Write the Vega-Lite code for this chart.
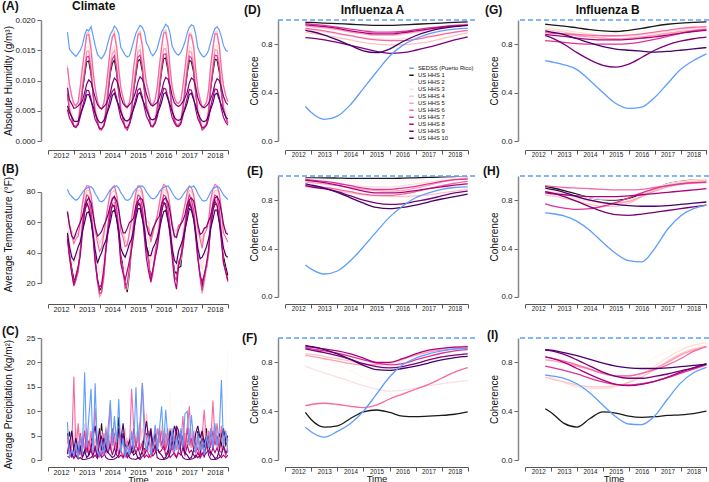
{
"$schema":"https://vega.github.io/schema/vega-lite/v6.json",
"padding":{"left":2,"top":0,"right":0,"bottom":0},
"config":{
 "font":"Liberation Sans",
 "view":{"stroke":null},
 "axis":{"grid":false,"labelColor":"#222","titleColor":"#111","titleFontWeight":"normal","labelFont":"Liberation Sans","titleFont":"Liberation Sans"},
 "axisX":{"tickSize":4,"labelPadding":-3,"domainColor":"#555","tickColor":"#555","titleFontSize":9.5,"titlePadding":-1},
 "axisY":{"tickSize":4,"labelPadding":2,"domainColor":"#888","domainWidth":1.5,"tickColor":"#666","labelFontSize":8,"titleFontSize":10,"titleBaseline":"middle"},
 "title":{"font":"Liberation Sans","fontSize":12,"fontWeight":"bold","color":"#111","anchor":"start","frame":"group","offset":0,"baseline":"bottom"}
},
"datasets":{
"A":[
{"t":2012.75,"PR":0.018,"H1":0.0082,"H2":0.009,"H3":0.0097,"H4":0.0125,"H5":0.0085,"H6":0.0121,"H7":0.0078,"H8":0.0052,"H9":0.0088,"H10":0.0058},
{"t":2012.83,"PR":0.0152,"H1":0.005,"H2":0.0058,"H3":0.0066,"H4":0.0094,"H5":0.0055,"H6":0.0093,"H7":0.005,"H8":0.0038,"H9":0.0068,"H10":0.0047},
{"t":2012.92,"PR":0.0147,"H1":0.004,"H2":0.0045,"H3":0.0049,"H4":0.0075,"H5":0.004,"H6":0.0074,"H7":0.0038,"H8":0.0031,"H9":0.0061,"H10":0.004},
{"t":2013.0,"PR":0.0143,"H1":0.0026,"H2":0.0029,"H3":0.0034,"H4":0.0058,"H5":0.0025,"H6":0.0062,"H7":0.0024,"H8":0.0024,"H9":0.0054,"H10":0.0033},
{"t":2013.08,"PR":0.014,"H1":0.0024,"H2":0.0027,"H3":0.0033,"H4":0.006,"H5":0.0024,"H6":0.0058,"H7":0.0022,"H8":0.0023,"H9":0.0055,"H10":0.0032},
{"t":2013.17,"PR":0.0145,"H1":0.003,"H2":0.0035,"H3":0.0041,"H4":0.0065,"H5":0.0032,"H6":0.0064,"H7":0.0029,"H8":0.0027,"H9":0.0058,"H10":0.0033},
{"t":2013.25,"PR":0.015,"H1":0.0052,"H2":0.0058,"H3":0.0066,"H4":0.009,"H5":0.0058,"H6":0.009,"H7":0.0054,"H8":0.004,"H9":0.0062,"H10":0.0043},
{"t":2013.33,"PR":0.0158,"H1":0.0082,"H2":0.009,"H3":0.0098,"H4":0.0122,"H5":0.0092,"H6":0.012,"H7":0.0085,"H8":0.0056,"H9":0.0066,"H10":0.0052},
{"t":2013.42,"PR":0.0175,"H1":0.0108,"H2":0.0118,"H3":0.0126,"H4":0.015,"H5":0.012,"H6":0.0148,"H7":0.0112,"H8":0.007,"H9":0.008,"H10":0.0063},
{"t":2013.5,"PR":0.0184,"H1":0.0131,"H2":0.0144,"H3":0.0155,"H4":0.0178,"H5":0.0148,"H6":0.0175,"H7":0.0139,"H8":0.0084,"H9":0.0094,"H10":0.0076},
{"t":2013.58,"PR":0.0182,"H1":0.0132,"H2":0.0145,"H3":0.0156,"H4":0.018,"H5":0.0149,"H6":0.0176,"H7":0.014,"H8":0.0083,"H9":0.0101,"H10":0.0077},
{"t":2013.67,"PR":0.0189,"H1":0.011,"H2":0.012,"H3":0.013,"H4":0.016,"H5":0.0124,"H6":0.015,"H7":0.0115,"H8":0.007,"H9":0.0097,"H10":0.0066},
{"t":2013.75,"PR":0.0174,"H1":0.0077,"H2":0.0084,"H3":0.0092,"H4":0.0117,"H5":0.0083,"H6":0.0114,"H7":0.0078,"H8":0.005,"H9":0.0084,"H10":0.0057},
{"t":2013.83,"PR":0.0158,"H1":0.0048,"H2":0.0055,"H3":0.0062,"H4":0.0088,"H5":0.0052,"H6":0.0087,"H7":0.0048,"H8":0.0036,"H9":0.0072,"H10":0.0046},
{"t":2013.92,"PR":0.0143,"H1":0.0033,"H2":0.0038,"H3":0.0043,"H4":0.0068,"H5":0.0034,"H6":0.0066,"H7":0.0032,"H8":0.0028,"H9":0.006,"H10":0.0036},
{"t":2014.0,"PR":0.0139,"H1":0.0022,"H2":0.0025,"H3":0.003,"H4":0.0054,"H5":0.0021,"H6":0.0055,"H7":0.0019,"H8":0.0021,"H9":0.0056,"H10":0.0031},
{"t":2014.08,"PR":0.0136,"H1":0.002,"H2":0.0023,"H3":0.0028,"H4":0.0052,"H5":0.0019,"H6":0.0053,"H7":0.0018,"H8":0.002,"H9":0.0053,"H10":0.003},
{"t":2014.17,"PR":0.0142,"H1":0.0027,"H2":0.0031,"H3":0.0038,"H4":0.0062,"H5":0.0028,"H6":0.0063,"H7":0.0026,"H8":0.0025,"H9":0.0057,"H10":0.0034},
{"t":2014.25,"PR":0.0149,"H1":0.0047,"H2":0.0053,"H3":0.006,"H4":0.0085,"H5":0.0052,"H6":0.0085,"H7":0.0049,"H8":0.0037,"H9":0.0061,"H10":0.0042},
{"t":2014.33,"PR":0.0163,"H1":0.0078,"H2":0.0086,"H3":0.0094,"H4":0.0118,"H5":0.0088,"H6":0.0116,"H7":0.008,"H8":0.0054,"H9":0.0069,"H10":0.005},
{"t":2014.42,"PR":0.0176,"H1":0.0112,"H2":0.0123,"H3":0.0132,"H4":0.0155,"H5":0.0125,"H6":0.0152,"H7":0.0117,"H8":0.0072,"H9":0.0079,"H10":0.0061},
{"t":2014.5,"PR":0.0182,"H1":0.0128,"H2":0.0141,"H3":0.0151,"H4":0.0174,"H5":0.0144,"H6":0.0171,"H7":0.0135,"H8":0.0082,"H9":0.0095,"H10":0.0075},
{"t":2014.58,"PR":0.019,"H1":0.0134,"H2":0.0147,"H3":0.0157,"H4":0.0181,"H5":0.015,"H6":0.0177,"H7":0.0141,"H8":0.0086,"H9":0.0104,"H10":0.0079},
{"t":2014.67,"PR":0.0186,"H1":0.0111,"H2":0.0122,"H3":0.0131,"H4":0.0158,"H5":0.0125,"H6":0.0154,"H7":0.0117,"H8":0.0071,"H9":0.01,"H10":0.0067},
{"t":2014.75,"PR":0.0177,"H1":0.008,"H2":0.0088,"H3":0.0095,"H4":0.012,"H5":0.0088,"H6":0.0118,"H7":0.0082,"H8":0.0053,"H9":0.009,"H10":0.0059},
{"t":2014.83,"PR":0.0155,"H1":0.0052,"H2":0.0058,"H3":0.0064,"H4":0.0089,"H5":0.0054,"H6":0.0088,"H7":0.005,"H8":0.0038,"H9":0.0073,"H10":0.0048},
{"t":2014.92,"PR":0.0148,"H1":0.0037,"H2":0.0042,"H3":0.0047,"H4":0.0072,"H5":0.0039,"H6":0.0071,"H7":0.0036,"H8":0.003,"H9":0.0062,"H10":0.0039},
{"t":2015.0,"PR":0.0142,"H1":0.0025,"H2":0.0028,"H3":0.0033,"H4":0.0057,"H5":0.0024,"H6":0.006,"H7":0.0022,"H8":0.0023,"H9":0.0058,"H10":0.0034},
{"t":2015.08,"PR":0.0139,"H1":0.0019,"H2":0.0022,"H3":0.0027,"H4":0.0053,"H5":0.0019,"H6":0.0056,"H7":0.0018,"H8":0.0022,"H9":0.0056,"H10":0.0033},
{"t":2015.17,"PR":0.0141,"H1":0.0029,"H2":0.0034,"H3":0.004,"H4":0.0064,"H5":0.0031,"H6":0.0065,"H7":0.0028,"H8":0.0028,"H9":0.006,"H10":0.0036},
{"t":2015.25,"PR":0.0152,"H1":0.005,"H2":0.0056,"H3":0.0063,"H4":0.0088,"H5":0.0056,"H6":0.0088,"H7":0.0052,"H8":0.0039,"H9":0.0064,"H10":0.0044},
{"t":2015.33,"PR":0.0165,"H1":0.0083,"H2":0.0091,"H3":0.0099,"H4":0.0123,"H5":0.0093,"H6":0.0121,"H7":0.0086,"H8":0.0057,"H9":0.0072,"H10":0.0053},
{"t":2015.42,"PR":0.0178,"H1":0.011,"H2":0.012,"H3":0.0129,"H4":0.0153,"H5":0.0122,"H6":0.015,"H7":0.0114,"H8":0.0071,"H9":0.0083,"H10":0.0064},
{"t":2015.5,"PR":0.0185,"H1":0.0132,"H2":0.0145,"H3":0.0155,"H4":0.0178,"H5":0.0148,"H6":0.0175,"H7":0.0139,"H8":0.0085,"H9":0.0098,"H10":0.0077},
{"t":2015.58,"PR":0.0191,"H1":0.0135,"H2":0.0148,"H3":0.0158,"H4":0.0182,"H5":0.0151,"H6":0.0178,"H7":0.0142,"H8":0.0087,"H9":0.0106,"H10":0.008},
{"t":2015.67,"PR":0.0188,"H1":0.0115,"H2":0.0126,"H3":0.0135,"H4":0.0162,"H5":0.0129,"H6":0.0157,"H7":0.012,"H8":0.0073,"H9":0.0102,"H10":0.0069},
{"t":2015.75,"PR":0.018,"H1":0.0083,"H2":0.0091,"H3":0.0099,"H4":0.0125,"H5":0.0091,"H6":0.0122,"H7":0.0085,"H8":0.0055,"H9":0.0092,"H10":0.0061},
{"t":2015.83,"PR":0.0162,"H1":0.0058,"H2":0.0064,"H3":0.007,"H4":0.0096,"H5":0.006,"H6":0.0095,"H7":0.0056,"H8":0.0041,"H9":0.0078,"H10":0.0051},
{"t":2015.92,"PR":0.0155,"H1":0.0046,"H2":0.0051,"H3":0.0056,"H4":0.0082,"H5":0.0047,"H6":0.008,"H7":0.0044,"H8":0.0033,"H9":0.0066,"H10":0.0042},
{"t":2016.0,"PR":0.0145,"H1":0.0026,"H2":0.003,"H3":0.0035,"H4":0.006,"H5":0.0026,"H6":0.0062,"H7":0.0024,"H8":0.0025,"H9":0.006,"H10":0.0036},
{"t":2016.08,"PR":0.0141,"H1":0.0025,"H2":0.0028,"H3":0.0034,"H4":0.0061,"H5":0.0025,"H6":0.006,"H7":0.0023,"H8":0.0024,"H9":0.0058,"H10":0.0035},
{"t":2016.17,"PR":0.0146,"H1":0.0032,"H2":0.0037,"H3":0.0044,"H4":0.0069,"H5":0.0035,"H6":0.0068,"H7":0.0031,"H8":0.0029,"H9":0.0061,"H10":0.0037},
{"t":2016.25,"PR":0.0153,"H1":0.0051,"H2":0.0057,"H3":0.0064,"H4":0.0089,"H5":0.0057,"H6":0.0089,"H7":0.0053,"H8":0.004,"H9":0.0064,"H10":0.0045},
{"t":2016.33,"PR":0.0166,"H1":0.0084,"H2":0.0092,"H3":0.01,"H4":0.0124,"H5":0.0094,"H6":0.0122,"H7":0.0087,"H8":0.0058,"H9":0.0072,"H10":0.0053},
{"t":2016.42,"PR":0.018,"H1":0.0115,"H2":0.0126,"H3":0.0135,"H4":0.0158,"H5":0.0128,"H6":0.0155,"H7":0.012,"H8":0.0074,"H9":0.0082,"H10":0.0064},
{"t":2016.5,"PR":0.0186,"H1":0.0136,"H2":0.0149,"H3":0.0159,"H4":0.0181,"H5":0.0152,"H6":0.0178,"H7":0.0143,"H8":0.0087,"H9":0.0097,"H10":0.0078},
{"t":2016.58,"PR":0.0193,"H1":0.0137,"H2":0.015,"H3":0.016,"H4":0.0184,"H5":0.0153,"H6":0.018,"H7":0.0144,"H8":0.0086,"H9":0.0105,"H10":0.008},
{"t":2016.67,"PR":0.0189,"H1":0.0116,"H2":0.0127,"H3":0.0136,"H4":0.0163,"H5":0.013,"H6":0.0158,"H7":0.0121,"H8":0.0072,"H9":0.0102,"H10":0.0069},
{"t":2016.75,"PR":0.0178,"H1":0.0082,"H2":0.009,"H3":0.0097,"H4":0.0123,"H5":0.0089,"H6":0.012,"H7":0.0084,"H8":0.0054,"H9":0.0091,"H10":0.006},
{"t":2016.83,"PR":0.0157,"H1":0.0053,"H2":0.0059,"H3":0.0065,"H4":0.0091,"H5":0.0055,"H6":0.0089,"H7":0.0051,"H8":0.0039,"H9":0.0075,"H10":0.0049},
{"t":2016.92,"PR":0.0149,"H1":0.0036,"H2":0.0041,"H3":0.0046,"H4":0.0072,"H5":0.0037,"H6":0.0072,"H7":0.0035,"H8":0.003,"H9":0.0063,"H10":0.0039},
{"t":2017.0,"PR":0.0144,"H1":0.0027,"H2":0.0031,"H3":0.0037,"H4":0.0062,"H5":0.0027,"H6":0.0064,"H7":0.0025,"H8":0.0025,"H9":0.0059,"H10":0.0035},
{"t":2017.08,"PR":0.0142,"H1":0.0026,"H2":0.003,"H3":0.0036,"H4":0.0063,"H5":0.0028,"H6":0.0062,"H7":0.0025,"H8":0.0024,"H9":0.0057,"H10":0.0034},
{"t":2017.17,"PR":0.0147,"H1":0.0031,"H2":0.0036,"H3":0.0043,"H4":0.0068,"H5":0.0034,"H6":0.0067,"H7":0.003,"H8":0.0028,"H9":0.006,"H10":0.0036},
{"t":2017.25,"PR":0.0154,"H1":0.0053,"H2":0.0059,"H3":0.0066,"H4":0.0091,"H5":0.0059,"H6":0.0091,"H7":0.0055,"H8":0.0041,"H9":0.0065,"H10":0.0045},
{"t":2017.33,"PR":0.0164,"H1":0.0081,"H2":0.0089,"H3":0.0097,"H4":0.0121,"H5":0.0091,"H6":0.0119,"H7":0.0084,"H8":0.0056,"H9":0.0071,"H10":0.0052},
{"t":2017.42,"PR":0.0179,"H1":0.0112,"H2":0.0122,"H3":0.0131,"H4":0.0155,"H5":0.0124,"H6":0.0152,"H7":0.0116,"H8":0.0072,"H9":0.0081,"H10":0.0063},
{"t":2017.5,"PR":0.0188,"H1":0.0133,"H2":0.0146,"H3":0.0156,"H4":0.0179,"H5":0.0149,"H6":0.0176,"H7":0.014,"H8":0.0085,"H9":0.0096,"H10":0.0077},
{"t":2017.58,"PR":0.0192,"H1":0.0131,"H2":0.0144,"H3":0.0154,"H4":0.0178,"H5":0.0147,"H6":0.0174,"H7":0.0138,"H8":0.0084,"H9":0.0104,"H10":0.0079},
{"t":2017.67,"PR":0.019,"H1":0.0113,"H2":0.0124,"H3":0.0133,"H4":0.016,"H5":0.0127,"H6":0.0155,"H7":0.0118,"H8":0.0071,"H9":0.0101,"H10":0.0068},
{"t":2017.75,"PR":0.0176,"H1":0.0079,"H2":0.0087,"H3":0.0094,"H4":0.012,"H5":0.0086,"H6":0.0117,"H7":0.0081,"H8":0.0052,"H9":0.0089,"H10":0.0058},
{"t":2017.83,"PR":0.0154,"H1":0.005,"H2":0.0056,"H3":0.0062,"H4":0.0088,"H5":0.0052,"H6":0.0086,"H7":0.0048,"H8":0.0037,"H9":0.0072,"H10":0.0047},
{"t":2017.92,"PR":0.0146,"H1":0.0034,"H2":0.0039,"H3":0.0044,"H4":0.0069,"H5":0.0035,"H6":0.0069,"H7":0.0033,"H8":0.0029,"H9":0.0061,"H10":0.0038},
{"t":2018.0,"PR":0.0141,"H1":0.0021,"H2":0.0024,"H3":0.0029,"H4":0.0053,"H5":0.002,"H6":0.0056,"H7":0.0018,"H8":0.0022,"H9":0.0057,"H10":0.0033},
{"t":2018.08,"PR":0.0139,"H1":0.0023,"H2":0.0026,"H3":0.0032,"H4":0.0058,"H5":0.0023,"H6":0.0058,"H7":0.0021,"H8":0.0023,"H9":0.0055,"H10":0.0032},
{"t":2018.17,"PR":0.0143,"H1":0.0028,"H2":0.0033,"H3":0.004,"H4":0.0064,"H5":0.003,"H6":0.0064,"H7":0.0027,"H8":0.0026,"H9":0.0058,"H10":0.0034},
{"t":2018.25,"PR":0.015,"H1":0.0046,"H2":0.0052,"H3":0.0059,"H4":0.0084,"H5":0.0051,"H6":0.0084,"H7":0.0048,"H8":0.0036,"H9":0.0062,"H10":0.0042},
{"t":2018.33,"PR":0.0163,"H1":0.0085,"H2":0.0093,"H3":0.0101,"H4":0.0125,"H5":0.0095,"H6":0.0123,"H7":0.0088,"H8":0.0057,"H9":0.007,"H10":0.0052},
{"t":2018.42,"PR":0.0177,"H1":0.0114,"H2":0.0124,"H3":0.0133,"H4":0.0156,"H5":0.0126,"H6":0.0153,"H7":0.0118,"H8":0.0073,"H9":0.008,"H10":0.0063},
{"t":2018.5,"PR":0.0186,"H1":0.0135,"H2":0.0148,"H3":0.0158,"H4":0.018,"H5":0.0151,"H6":0.0177,"H7":0.0142,"H8":0.0086,"H9":0.0095,"H10":0.0077},
{"t":2018.58,"PR":0.0189,"H1":0.0134,"H2":0.0147,"H3":0.0157,"H4":0.0181,"H5":0.015,"H6":0.0177,"H7":0.0141,"H8":0.0085,"H9":0.0103,"H10":0.0079},
{"t":2018.67,"PR":0.0183,"H1":0.0114,"H2":0.0125,"H3":0.0134,"H4":0.0161,"H5":0.0128,"H6":0.0156,"H7":0.0119,"H8":0.0072,"H9":0.01,"H10":0.0068},
{"t":2018.75,"PR":0.0172,"H1":0.008,"H2":0.0088,"H3":0.0096,"H4":0.0121,"H5":0.0088,"H6":0.0119,"H7":0.0082,"H8":0.0053,"H9":0.0088,"H10":0.0059},
{"t":2018.83,"PR":0.0158,"H1":0.0055,"H2":0.0061,"H3":0.0067,"H4":0.0093,"H5":0.0057,"H6":0.0091,"H7":0.0053,"H8":0.0039,"H9":0.0074,"H10":0.0049},
{"t":2018.92,"PR":0.015,"H1":0.004,"H2":0.0045,"H3":0.005,"H4":0.0076,"H5":0.0042,"H6":0.0075,"H7":0.0039,"H8":0.0031,"H9":0.0064,"H10":0.004},
{"t":2019.0,"PR":0.0148,"H1":0.003,"H2":0.0034,"H3":0.004,"H4":0.0065,"H5":0.0031,"H6":0.0065,"H7":0.0029,"H8":0.0026,"H9":0.006,"H10":0.0036}
],
"B":[
{"t":2012.75,"PR":81.8,"H1":51,"H2":55,"H3":59,"H4":67,"H5":50,"H6":67,"H7":52,"H8":49,"H9":67,"H10":53},
{"t":2012.83,"PR":78.5,"H1":39,"H2":44,"H3":48,"H4":59,"H5":37,"H6":58,"H7":39,"H8":37,"H9":58,"H10":44},
{"t":2012.92,"PR":77,"H1":31,"H2":35,"H3":40,"H4":55,"H5":27,"H6":51,"H7":28,"H8":26,"H9":51,"H10":37},
{"t":2013.0,"PR":75.5,"H1":22,"H2":27,"H3":33,"H4":50,"H5":18,"H6":46,"H7":18,"H8":19,"H9":49,"H10":35},
{"t":2013.08,"PR":74.5,"H1":23,"H2":28,"H3":35,"H4":51,"H5":22,"H6":49,"H7":22,"H8":25,"H9":53,"H10":39},
{"t":2013.17,"PR":75.5,"H1":31,"H2":36,"H3":41,"H4":53,"H5":27,"H6":51,"H7":28,"H8":31,"H9":57,"H10":44},
{"t":2013.25,"PR":77.5,"H1":45,"H2":49,"H3":52,"H4":62,"H5":41,"H6":60,"H7":40,"H8":38,"H9":60,"H10":47},
{"t":2013.33,"PR":79.5,"H1":57,"H2":61,"H3":64,"H4":71,"H5":58,"H6":72,"H7":58,"H8":52,"H9":64,"H10":54},
{"t":2013.42,"PR":81.5,"H1":67,"H2":71,"H3":74,"H4":78,"H5":70,"H6":81,"H7":72,"H8":67,"H9":70,"H10":60},
{"t":2013.5,"PR":82.5,"H1":73,"H2":78,"H3":80,"H4":81,"H5":75,"H6":84,"H7":78,"H8":72,"H9":74,"H10":66},
{"t":2013.58,"PR":83,"H1":70,"H2":75,"H3":77,"H4":81,"H5":73,"H6":84,"H7":77,"H8":70,"H9":76,"H10":67},
{"t":2013.67,"PR":83.5,"H1":63,"H2":67,"H3":70,"H4":76,"H5":65,"H6":78,"H7":68,"H8":62,"H9":73,"H10":61},
{"t":2013.75,"PR":82,"H1":53,"H2":57,"H3":61,"H4":68,"H5":52,"H6":68,"H7":54,"H8":50,"H9":65,"H10":52},
{"t":2013.83,"PR":79,"H1":37,"H2":42,"H3":47,"H4":57,"H5":34,"H6":55,"H7":35,"H8":34,"H9":57,"H10":42},
{"t":2013.92,"PR":76.5,"H1":25,"H2":30,"H3":35,"H4":52,"H5":21,"H6":47,"H7":21,"H8":22,"H9":51,"H10":33},
{"t":2014.0,"PR":74,"H1":15,"H2":19,"H3":26,"H4":46,"H5":11,"H6":41,"H7":13,"H8":17,"H9":52,"H10":37},
{"t":2014.08,"PR":73.5,"H1":17,"H2":22,"H3":28,"H4":49,"H5":13,"H6":43,"H7":14,"H8":19,"H9":54,"H10":40},
{"t":2014.17,"PR":74.5,"H1":26,"H2":31,"H3":37,"H4":54,"H5":23,"H6":52,"H7":26,"H8":30,"H9":58,"H10":45},
{"t":2014.25,"PR":76.5,"H1":43,"H2":47,"H3":51,"H4":62,"H5":41,"H6":62,"H7":44,"H8":42,"H9":61,"H10":48},
{"t":2014.33,"PR":79,"H1":56,"H2":60,"H3":63,"H4":71,"H5":57,"H6":71,"H7":58,"H8":53,"H9":65,"H10":54},
{"t":2014.42,"PR":81.5,"H1":66,"H2":70,"H3":73,"H4":78,"H5":69,"H6":80,"H7":71,"H8":65,"H9":71,"H10":60},
{"t":2014.5,"PR":82.5,"H1":72,"H2":76,"H3":78,"H4":80,"H5":73,"H6":83,"H7":76,"H8":71,"H9":75,"H10":67},
{"t":2014.58,"PR":83.5,"H1":70,"H2":75,"H3":77,"H4":81,"H5":73,"H6":84,"H7":77,"H8":71,"H9":77,"H10":68},
{"t":2014.67,"PR":84,"H1":63,"H2":68,"H3":71,"H4":77,"H5":66,"H6":78,"H7":69,"H8":62,"H9":74,"H10":62},
{"t":2014.75,"PR":82.5,"H1":54,"H2":58,"H3":62,"H4":69,"H5":54,"H6":69,"H7":56,"H8":51,"H9":68,"H10":55},
{"t":2014.83,"PR":79.5,"H1":38,"H2":43,"H3":48,"H4":58,"H5":35,"H6":54,"H7":36,"H8":33,"H9":59,"H10":43},
{"t":2014.92,"PR":77.5,"H1":32,"H2":36,"H3":41,"H4":55,"H5":28,"H6":50,"H7":29,"H8":26,"H9":53,"H10":39},
{"t":2015.0,"PR":75,"H1":20,"H2":24,"H3":31,"H4":48,"H5":16,"H6":44,"H7":17,"H8":22,"H9":53,"H10":37},
{"t":2015.08,"PR":74.5,"H1":14,"H2":18,"H3":25,"H4":45,"H5":16,"H6":45,"H7":20,"H8":28,"H9":56,"H10":41},
{"t":2015.17,"PR":75,"H1":27,"H2":33,"H3":39,"H4":55,"H5":29,"H6":53,"H7":31,"H8":35,"H9":60,"H10":46},
{"t":2015.25,"PR":77,"H1":44,"H2":48,"H3":52,"H4":63,"H5":45,"H6":62,"H7":46,"H8":42,"H9":61,"H10":49},
{"t":2015.33,"PR":80,"H1":59,"H2":63,"H3":66,"H4":72,"H5":59,"H6":71,"H7":59,"H8":51,"H9":63,"H10":55},
{"t":2015.42,"PR":82,"H1":67,"H2":72,"H3":75,"H4":79,"H5":70,"H6":80,"H7":71,"H8":67,"H9":71,"H10":63},
{"t":2015.5,"PR":83,"H1":72,"H2":77,"H3":79,"H4":81,"H5":74,"H6":84,"H7":78,"H8":73,"H9":74,"H10":69},
{"t":2015.58,"PR":83.5,"H1":71,"H2":76,"H3":78,"H4":81,"H5":73,"H6":84,"H7":77,"H8":72,"H9":76,"H10":69},
{"t":2015.67,"PR":84,"H1":66,"H2":70,"H3":73,"H4":78,"H5":68,"H6":80,"H7":70,"H8":65,"H9":75,"H10":62},
{"t":2015.75,"PR":82.5,"H1":54,"H2":58,"H3":62,"H4":69,"H5":56,"H6":70,"H7":57,"H8":50,"H9":69,"H10":56},
{"t":2015.83,"PR":80,"H1":44,"H2":48,"H3":52,"H4":61,"H5":43,"H6":58,"H7":42,"H8":36,"H9":58,"H10":44},
{"t":2015.92,"PR":78,"H1":40,"H2":44,"H3":47,"H4":60,"H5":34,"H6":56,"H7":33,"H8":27,"H9":52,"H10":38},
{"t":2016.0,"PR":76,"H1":24,"H2":28,"H3":34,"H4":49,"H5":20,"H6":47,"H7":21,"H8":21,"H9":51,"H10":38},
{"t":2016.08,"PR":75.5,"H1":28,"H2":32,"H3":38,"H4":52,"H5":25,"H6":53,"H7":28,"H8":29,"H9":56,"H10":43},
{"t":2016.17,"PR":76,"H1":37,"H2":42,"H3":47,"H4":60,"H5":38,"H6":60,"H7":40,"H8":37,"H9":59,"H10":46},
{"t":2016.25,"PR":77.5,"H1":46,"H2":50,"H3":54,"H4":64,"H5":47,"H6":64,"H7":48,"H8":43,"H9":62,"H10":50},
{"t":2016.33,"PR":80,"H1":57,"H2":61,"H3":65,"H4":72,"H5":58,"H6":72,"H7":58,"H8":53,"H9":64,"H10":55},
{"t":2016.42,"PR":82,"H1":67,"H2":72,"H3":75,"H4":79,"H5":70,"H6":81,"H7":72,"H8":68,"H9":72,"H10":62},
{"t":2016.5,"PR":83,"H1":73,"H2":78,"H3":80,"H4":82,"H5":76,"H6":85,"H7":78,"H8":73,"H9":75,"H10":67},
{"t":2016.58,"PR":83.5,"H1":72,"H2":77,"H3":79,"H4":81,"H5":75,"H6":84,"H7":77,"H8":71,"H9":76,"H10":68},
{"t":2016.67,"PR":84,"H1":65,"H2":69,"H3":72,"H4":78,"H5":68,"H6":79,"H7":69,"H8":62,"H9":73,"H10":61},
{"t":2016.75,"PR":82,"H1":54,"H2":58,"H3":62,"H4":70,"H5":56,"H6":70,"H7":57,"H8":51,"H9":67,"H10":54},
{"t":2016.83,"PR":79.5,"H1":43,"H2":47,"H3":51,"H4":60,"H5":43,"H6":58,"H7":42,"H8":37,"H9":58,"H10":43},
{"t":2016.92,"PR":77,"H1":28,"H2":33,"H3":38,"H4":54,"H5":25,"H6":50,"H7":24,"H8":22,"H9":51,"H10":35},
{"t":2017.0,"PR":75.5,"H1":26,"H2":30,"H3":36,"H4":55,"H5":22,"H6":51,"H7":22,"H8":16,"H9":50,"H10":33},
{"t":2017.08,"PR":75,"H1":30,"H2":34,"H3":41,"H4":58,"H5":32,"H6":58,"H7":34,"H8":31,"H9":55,"H10":41},
{"t":2017.17,"PR":76,"H1":31,"H2":35,"H3":42,"H4":58,"H5":36,"H6":59,"H7":37,"H8":38,"H9":59,"H10":45},
{"t":2017.25,"PR":78,"H1":47,"H2":51,"H3":55,"H4":65,"H5":49,"H6":65,"H7":49,"H8":43,"H9":61,"H10":49},
{"t":2017.33,"PR":80,"H1":56,"H2":60,"H3":64,"H4":71,"H5":58,"H6":72,"H7":59,"H8":54,"H9":65,"H10":55},
{"t":2017.42,"PR":82,"H1":67,"H2":71,"H3":74,"H4":78,"H5":70,"H6":80,"H7":72,"H8":67,"H9":72,"H10":62},
{"t":2017.5,"PR":83.5,"H1":72,"H2":77,"H3":79,"H4":81,"H5":75,"H6":84,"H7":78,"H8":74,"H9":75,"H10":69},
{"t":2017.58,"PR":83,"H1":69,"H2":74,"H3":77,"H4":80,"H5":72,"H6":83,"H7":75,"H8":70,"H9":76,"H10":68},
{"t":2017.67,"PR":84,"H1":64,"H2":68,"H3":72,"H4":77,"H5":66,"H6":78,"H7":68,"H8":62,"H9":74,"H10":62},
{"t":2017.75,"PR":82,"H1":56,"H2":59,"H3":62,"H4":69,"H5":53,"H6":68,"H7":54,"H8":50,"H9":67,"H10":53},
{"t":2017.83,"PR":79,"H1":40,"H2":45,"H3":50,"H4":59,"H5":38,"H6":56,"H7":38,"H8":36,"H9":59,"H10":43},
{"t":2017.92,"PR":76.5,"H1":26,"H2":31,"H3":37,"H4":53,"H5":23,"H6":49,"H7":24,"H8":25,"H9":52,"H10":36},
{"t":2018.0,"PR":74.5,"H1":17,"H2":22,"H3":29,"H4":46,"H5":13,"H6":43,"H7":15,"H8":21,"H9":53,"H10":37},
{"t":2018.08,"PR":74,"H1":26,"H2":31,"H3":38,"H4":56,"H5":20,"H6":52,"H7":23,"H8":25,"H9":56,"H10":40},
{"t":2018.17,"PR":74.5,"H1":30,"H2":35,"H3":40,"H4":56,"H5":30,"H6":55,"H7":32,"H8":33,"H9":57,"H10":44},
{"t":2018.25,"PR":77,"H1":40,"H2":45,"H3":49,"H4":62,"H5":38,"H6":60,"H7":40,"H8":42,"H9":61,"H10":49},
{"t":2018.33,"PR":80,"H1":60,"H2":64,"H3":67,"H4":73,"H5":63,"H6":75,"H7":63,"H8":55,"H9":64,"H10":56},
{"t":2018.42,"PR":82,"H1":68,"H2":73,"H3":76,"H4":79,"H5":71,"H6":82,"H7":73,"H8":68,"H9":71,"H10":62},
{"t":2018.5,"PR":83,"H1":72,"H2":77,"H3":80,"H4":81,"H5":75,"H6":85,"H7":78,"H8":74,"H9":76,"H10":68},
{"t":2018.58,"PR":83.5,"H1":72,"H2":77,"H3":79,"H4":81,"H5":74,"H6":84,"H7":77,"H8":71,"H9":77,"H10":68},
{"t":2018.67,"PR":83,"H1":65,"H2":70,"H3":73,"H4":78,"H5":67,"H6":79,"H7":69,"H8":60,"H9":74,"H10":60},
{"t":2018.75,"PR":80.5,"H1":52,"H2":56,"H3":61,"H4":69,"H5":51,"H6":68,"H7":52,"H8":47,"H9":67,"H10":52},
{"t":2018.83,"PR":78,"H1":38,"H2":42,"H3":47,"H4":57,"H5":33,"H6":53,"H7":33,"H8":34,"H9":59,"H10":43},
{"t":2018.92,"PR":76.5,"H1":31,"H2":35,"H3":40,"H4":55,"H5":27,"H6":50,"H7":28,"H8":27,"H9":53,"H10":38},
{"t":2019.0,"PR":75,"H1":25,"H2":29,"H3":35,"H4":52,"H5":21,"H6":47,"H7":21,"H8":22,"H9":52,"H10":37}
],
"C":[
{"t":2012.75,"PR":7.8,"H1":3.5,"H2":4.2,"H3":3.8,"H4":2.5,"H5":2.0,"H6":4.5,"H7":1.5,"H8":0.8,"H9":1.2,"H10":5.5},
{"t":2012.83,"PR":0.5,"H1":5.8,"H2":2.0,"H3":4.5,"H4":1.5,"H5":3.5,"H6":1.0,"H7":3.0,"H8":0.5,"H9":4.0,"H10":3.2},
{"t":2012.92,"PR":2.0,"H1":2.5,"H2":6.2,"H3":1.8,"H4":5.5,"H5":1.0,"H6":3.0,"H7":1.0,"H8":1.5,"H9":0.5,"H10":6.0},
{"t":2013.0,"PR":1.0,"H1":4.0,"H2":1.5,"H3":5.5,"H4":3.0,"H5":2.5,"H6":17.1,"H7":0.5,"H8":0.3,"H9":2.5,"H10":2.0},
{"t":2013.08,"PR":3.5,"H1":1.5,"H2":4.5,"H3":2.0,"H4":6.5,"H5":0.8,"H6":2.0,"H7":2.0,"H8":1.0,"H9":0.8,"H10":4.5},
{"t":2013.17,"PR":0.3,"H1":3.8,"H2":2.2,"H3":3.5,"H4":2.0,"H5":4.0,"H6":7.5,"H7":1.0,"H8":0.5,"H9":0.2,"H10":1.5},
{"t":2013.25,"PR":5.0,"H1":1.2,"H2":6.8,"H3":1.0,"H4":4.5,"H5":1.5,"H6":1.0,"H7":5.5,"H8":2.5,"H9":0.5,"H10":3.0},
{"t":2013.33,"PR":1.0,"H1":5.5,"H2":1.8,"H3":6.5,"H4":1.5,"H5":5.0,"H6":4.5,"H7":2.0,"H8":0.5,"H9":0.1,"H10":0.8},
{"t":2013.42,"PR":18.0,"H1":2.0,"H2":3.0,"H3":2.5,"H4":7.5,"H5":2.5,"H6":2.0,"H7":6.0,"H8":1.5,"H9":0.1,"H10":2.0},
{"t":2013.5,"PR":2.5,"H1":4.5,"H2":7.0,"H3":4.0,"H4":3.0,"H5":6.5,"H6":5.5,"H7":1.5,"H8":3.0,"H9":0.2,"H10":0.5},
{"t":2013.58,"PR":8.5,"H1":1.0,"H2":2.0,"H3":7.0,"H4":6.0,"H5":1.5,"H6":1.5,"H7":4.0,"H8":1.0,"H9":0.3,"H10":1.0},
{"t":2013.67,"PR":14.6,"H1":3.5,"H2":4.0,"H3":1.5,"H4":2.5,"H5":3.0,"H6":6.0,"H7":2.5,"H8":2.0,"H9":0.5,"H10":2.5},
{"t":2013.75,"PR":1.5,"H1":6.0,"H2":1.2,"H3":5.0,"H4":4.0,"H5":1.0,"H6":3.0,"H7":1.0,"H8":0.5,"H9":1.0,"H10":5.0},
{"t":2013.83,"PR":15.7,"H1":2.0,"H2":5.5,"H3":2.5,"H4":1.0,"H5":4.5,"H6":10.6,"H7":3.0,"H8":1.0,"H9":2.5,"H10":7.0},
{"t":2013.92,"PR":2.0,"H1":4.0,"H2":2.5,"H3":6.0,"H4":5.0,"H5":2.0,"H6":2.0,"H7":0.5,"H8":0.3,"H9":0.5,"H10":3.0},
{"t":2014.0,"PR":0.5,"H1":3.0,"H2":7.0,"H3":3.0,"H4":2.5,"H5":1.5,"H6":4.5,"H7":1.5,"H8":1.5,"H9":3.5,"H10":6.5},
{"t":2014.08,"PR":4.0,"H1":7.5,"H2":2.0,"H3":5.0,"H4":6.0,"H5":3.5,"H6":1.0,"H7":0.8,"H8":0.5,"H9":5.0,"H10":2.0},
{"t":2014.17,"PR":1.0,"H1":1.5,"H2":5.0,"H3":2.0,"H4":3.0,"H5":1.0,"H6":5.5,"H7":2.5,"H8":1.0,"H9":1.5,"H10":4.5},
{"t":2014.25,"PR":6.5,"H1":4.5,"H2":2.5,"H3":6.5,"H4":7.0,"H5":4.0,"H6":2.0,"H7":1.5,"H8":2.0,"H9":0.5,"H10":2.5},
{"t":2014.33,"PR":2.0,"H1":2.0,"H2":5.5,"H3":3.0,"H4":2.0,"H5":5.5,"H6":6.5,"H7":5.0,"H8":1.5,"H9":0.2,"H10":1.5},
{"t":2014.42,"PR":12.3,"H1":5.0,"H2":3.0,"H3":4.5,"H4":5.5,"H5":2.0,"H6":11.5,"H7":2.0,"H8":3.0,"H9":0.1,"H10":1.0},
{"t":2014.5,"PR":3.0,"H1":2.5,"H2":6.0,"H3":2.0,"H4":3.0,"H5":6.0,"H6":3.0,"H7":6.5,"H8":1.0,"H9":0.1,"H10":0.5},
{"t":2014.58,"PR":9.0,"H1":6.0,"H2":2.0,"H3":7.0,"H4":8.0,"H5":3.5,"H6":5.0,"H7":2.5,"H8":2.5,"H9":0.2,"H10":0.8},
{"t":2014.67,"PR":3.5,"H1":3.0,"H2":5.0,"H3":2.5,"H4":4.0,"H5":1.5,"H6":2.0,"H7":4.0,"H8":1.0,"H9":0.5,"H10":2.0},
{"t":2014.75,"PR":12.5,"H1":8.8,"H2":3.5,"H3":5.0,"H4":2.5,"H5":4.0,"H6":6.0,"H7":1.0,"H8":0.5,"H9":1.0,"H10":6.5},
{"t":2014.83,"PR":1.5,"H1":2.5,"H2":6.5,"H3":3.0,"H4":5.0,"H5":2.0,"H6":2.5,"H7":2.0,"H8":1.0,"H9":3.0,"H10":4.0},
{"t":2014.92,"PR":4.5,"H1":5.5,"H2":2.0,"H3":6.0,"H4":3.0,"H5":1.0,"H6":5.0,"H7":0.5,"H8":0.5,"H9":5.5,"H10":7.5},
{"t":2015.0,"PR":0.5,"H1":2.0,"H2":4.5,"H3":2.0,"H4":6.5,"H5":3.0,"H6":1.5,"H7":1.5,"H8":1.5,"H9":0.8,"H10":3.0},
{"t":2015.08,"PR":3.0,"H1":4.5,"H2":1.5,"H3":4.5,"H4":2.0,"H5":1.0,"H6":4.0,"H7":0.5,"H8":0.5,"H9":1.5,"H10":2.5},
{"t":2015.17,"PR":1.0,"H1":2.5,"H2":5.5,"H3":2.5,"H4":5.0,"H5":3.5,"H6":2.5,"H7":2.5,"H8":1.0,"H9":0.5,"H10":4.0},
{"t":2015.25,"PR":6.0,"H1":5.0,"H2":2.5,"H3":6.0,"H4":3.5,"H5":2.0,"H6":14.6,"H7":1.5,"H8":2.0,"H9":0.2,"H10":2.0},
{"t":2015.33,"PR":2.0,"H1":1.5,"H2":6.5,"H3":2.0,"H4":6.0,"H5":5.0,"H6":7.0,"H7":6.5,"H8":3.0,"H9":0.2,"H10":1.0},
{"t":2015.42,"PR":14.9,"H1":4.0,"H2":3.0,"H3":5.5,"H4":2.5,"H5":3.0,"H6":3.0,"H7":2.5,"H8":1.5,"H9":0.1,"H10":1.5},
{"t":2015.5,"PR":3.5,"H1":6.5,"H2":7.0,"H3":3.0,"H4":7.5,"H5":6.5,"H6":2.0,"H7":5.5,"H8":2.5,"H9":0.5,"H10":0.3},
{"t":2015.58,"PR":8.0,"H1":2.5,"H2":2.0,"H3":7.0,"H4":4.0,"H5":2.0,"H6":5.5,"H7":2.0,"H8":1.0,"H9":0.1,"H10":0.5},
{"t":2015.67,"PR":15.8,"H1":4.0,"H2":5.0,"H3":2.0,"H4":6.5,"H5":3.5,"H6":15.7,"H7":3.5,"H8":1.5,"H9":0.8,"H10":2.0},
{"t":2015.75,"PR":4.0,"H1":1.5,"H2":2.5,"H3":5.5,"H4":3.0,"H5":1.0,"H6":8.4,"H7":1.5,"H8":0.5,"H9":1.0,"H10":5.0},
{"t":2015.83,"PR":2.0,"H1":5.5,"H2":5.0,"H3":2.5,"H4":9.5,"H5":4.0,"H6":4.0,"H7":2.5,"H8":1.0,"H9":2.0,"H10":8.0},
{"t":2015.92,"PR":5.0,"H1":3.0,"H2":2.0,"H3":6.5,"H4":4.0,"H5":2.0,"H6":6.0,"H7":1.0,"H8":0.5,"H9":3.5,"H10":4.0},
{"t":2016.0,"PR":1.0,"H1":6.0,"H2":7.5,"H3":3.0,"H4":6.5,"H5":1.5,"H6":2.0,"H7":0.5,"H8":1.5,"H9":6.0,"H10":6.5},
{"t":2016.08,"PR":3.0,"H1":2.5,"H2":3.0,"H3":5.0,"H4":3.0,"H5":3.0,"H6":4.5,"H7":1.5,"H8":0.8,"H9":1.5,"H10":3.0},
{"t":2016.17,"PR":7.2,"H1":4.5,"H2":6.0,"H3":2.5,"H4":5.5,"H5":1.5,"H6":2.5,"H7":3.0,"H8":1.5,"H9":3.0,"H10":5.5},
{"t":2016.25,"PR":2.0,"H1":2.0,"H2":2.5,"H3":6.0,"H4":2.0,"H5":4.0,"H6":6.5,"H7":2.0,"H8":2.5,"H9":0.5,"H10":2.5},
{"t":2016.33,"PR":6.0,"H1":5.0,"H2":6.5,"H3":3.0,"H4":5.0,"H5":5.5,"H6":3.5,"H7":6.5,"H8":1.5,"H9":0.2,"H10":1.5},
{"t":2016.42,"PR":11.0,"H1":2.5,"H2":3.0,"H3":5.5,"H4":7.0,"H5":2.5,"H6":6.0,"H7":3.0,"H8":2.0,"H9":0.1,"H10":1.0},
{"t":2016.5,"PR":3.0,"H1":5.5,"H2":6.0,"H3":2.0,"H4":4.0,"H5":6.0,"H6":2.0,"H7":5.0,"H8":3.0,"H9":0.1,"H10":0.3},
{"t":2016.58,"PR":10.3,"H1":3.0,"H2":2.5,"H3":6.5,"H4":6.0,"H5":3.0,"H6":5.5,"H7":2.0,"H8":1.0,"H9":0.2,"H10":0.5},
{"t":2016.67,"PR":4.0,"H1":6.5,"H2":5.0,"H3":3.0,"H4":2.5,"H5":4.5,"H6":3.0,"H7":4.5,"H8":2.0,"H9":0.5,"H10":1.5},
{"t":2016.75,"PR":2.0,"H1":2.0,"H2":14.0,"H3":5.5,"H4":5.0,"H5":2.0,"H6":6.5,"H7":1.5,"H8":0.5,"H9":1.5,"H10":6.0},
{"t":2016.83,"PR":6.5,"H1":5.0,"H2":3.0,"H3":2.0,"H4":2.0,"H5":3.5,"H6":2.5,"H7":2.5,"H8":1.0,"H9":4.0,"H10":4.0},
{"t":2016.92,"PR":1.5,"H1":3.0,"H2":6.0,"H3":6.0,"H4":5.5,"H5":1.5,"H6":5.0,"H7":1.0,"H8":1.5,"H9":2.0,"H10":7.0},
{"t":2017.0,"PR":5.0,"H1":6.5,"H2":2.5,"H3":3.0,"H4":3.5,"H5":4.0,"H6":2.0,"H7":0.5,"H8":0.5,"H9":7.0,"H10":5.5},
{"t":2017.08,"PR":2.0,"H1":2.0,"H2":5.5,"H3":5.5,"H4":6.0,"H5":2.0,"H6":5.5,"H7":2.0,"H8":1.5,"H9":6.0,"H10":3.0},
{"t":2017.17,"PR":6.5,"H1":4.5,"H2":2.0,"H3":2.5,"H4":3.0,"H5":5.0,"H6":3.0,"H7":3.0,"H8":1.0,"H9":1.5,"H10":6.0},
{"t":2017.25,"PR":2.5,"H1":2.0,"H2":6.0,"H3":6.0,"H4":6.5,"H5":3.0,"H6":9.0,"H7":5.0,"H8":2.5,"H9":0.5,"H10":3.0},
{"t":2017.33,"PR":9.5,"H1":5.5,"H2":3.0,"H3":3.0,"H4":3.0,"H5":5.5,"H6":2.5,"H7":2.0,"H8":1.0,"H9":0.2,"H10":1.5},
{"t":2017.42,"PR":10.0,"H1":3.0,"H2":7.0,"H3":6.5,"H4":7.5,"H5":2.5,"H6":6.0,"H7":6.5,"H8":3.0,"H9":0.1,"H10":1.0},
{"t":2017.5,"PR":3.0,"H1":6.0,"H2":2.5,"H3":2.5,"H4":4.0,"H5":6.5,"H6":11.0,"H7":3.0,"H8":1.5,"H9":0.1,"H10":0.3},
{"t":2017.58,"PR":9.2,"H1":2.5,"H2":5.5,"H3":6.5,"H4":6.0,"H5":2.5,"H6":3.0,"H7":4.5,"H8":2.0,"H9":0.2,"H10":0.5},
{"t":2017.67,"PR":4.0,"H1":5.0,"H2":3.0,"H3":2.5,"H4":2.5,"H5":4.0,"H6":6.0,"H7":2.0,"H8":1.0,"H9":0.3,"H10":2.0},
{"t":2017.75,"PR":1.5,"H1":2.5,"H2":6.5,"H3":5.5,"H4":5.5,"H5":2.0,"H6":2.0,"H7":1.5,"H8":0.5,"H9":1.0,"H10":5.5},
{"t":2017.83,"PR":5.5,"H1":6.0,"H2":2.5,"H3":2.0,"H4":2.5,"H5":3.5,"H6":4.5,"H7":2.5,"H8":1.5,"H9":0.5,"H10":7.0},
{"t":2017.92,"PR":2.0,"H1":3.0,"H2":5.5,"H3":6.0,"H4":5.0,"H5":1.0,"H6":2.0,"H7":0.5,"H8":0.5,"H9":1.0,"H10":4.5},
{"t":2018.0,"PR":4.0,"H1":5.5,"H2":3.0,"H3":3.0,"H4":3.0,"H5":2.5,"H6":5.0,"H7":1.0,"H8":1.5,"H9":4.5,"H10":6.0},
{"t":2018.08,"PR":1.0,"H1":2.5,"H2":6.0,"H3":6.0,"H4":6.5,"H5":4.0,"H6":10.3,"H7":2.0,"H8":0.8,"H9":0.5,"H10":3.5},
{"t":2018.17,"PR":5.0,"H1":6.5,"H2":2.5,"H3":2.5,"H4":3.0,"H5":2.0,"H6":3.0,"H7":2.5,"H8":1.5,"H9":4.0,"H10":5.0},
{"t":2018.25,"PR":2.5,"H1":3.0,"H2":7.0,"H3":5.5,"H4":6.0,"H5":4.5,"H6":6.0,"H7":5.0,"H8":2.0,"H9":1.0,"H10":3.0},
{"t":2018.33,"PR":6.5,"H1":5.5,"H2":3.0,"H3":3.0,"H4":3.5,"H5":6.0,"H6":3.0,"H7":2.5,"H8":1.0,"H9":0.2,"H10":1.5},
{"t":2018.42,"PR":2.5,"H1":2.5,"H2":6.5,"H3":6.5,"H4":7.0,"H5":3.0,"H6":12.2,"H7":6.0,"H8":2.5,"H9":0.1,"H10":1.0},
{"t":2018.5,"PR":7.5,"H1":6.0,"H2":3.0,"H3":3.0,"H4":4.0,"H5":6.5,"H6":4.0,"H7":3.0,"H8":1.5,"H9":0.1,"H10":0.3},
{"t":2018.58,"PR":3.0,"H1":3.0,"H2":7.5,"H3":6.5,"H4":6.5,"H5":2.5,"H6":7.5,"H7":5.0,"H8":2.5,"H9":0.2,"H10":0.5},
{"t":2018.67,"PR":6.0,"H1":5.5,"H2":3.0,"H3":3.0,"H4":3.0,"H5":4.5,"H6":3.0,"H7":2.0,"H8":1.0,"H9":0.5,"H10":2.0},
{"t":2018.75,"PR":16.4,"H1":2.5,"H2":6.5,"H3":6.0,"H4":6.0,"H5":2.0,"H6":7.0,"H7":1.5,"H8":0.5,"H9":1.0,"H10":5.0},
{"t":2018.83,"PR":3.0,"H1":6.0,"H2":3.0,"H3":3.0,"H4":3.0,"H5":3.5,"H6":3.0,"H7":2.5,"H8":1.0,"H9":3.0,"H10":6.5},
{"t":2018.92,"PR":6.0,"H1":3.0,"H2":6.5,"H3":5.5,"H4":5.5,"H5":1.5,"H6":5.5,"H7":1.0,"H8":0.5,"H9":1.5,"H10":4.0},
{"t":2019.0,"PR":1.5,"H1":4.0,"H2":22.6,"H3":3.0,"H4":4.0,"H5":3.0,"H6":4.0,"H7":2.0,"H8":1.0,"H9":2.0,"H10":5.0}
],
"D":[
{"t":2012.77,"PR":0.285,"H1":0.98,"H2":0.955,"H3":0.92,"H4":0.895,"H5":0.95,"H6":0.93,"H7":0.97,"H8":0.96,"H9":0.855,"H10":0.915},
{"t":2013.0,"PR":0.235,"H1":0.98,"H2":0.95,"H3":0.915,"H4":0.89,"H5":0.945,"H6":0.925,"H7":0.965,"H8":0.955,"H9":0.85,"H10":0.905},
{"t":2013.5,"PR":0.178,"H1":0.975,"H2":0.945,"H3":0.9,"H4":0.875,"H5":0.935,"H6":0.91,"H7":0.955,"H8":0.945,"H9":0.835,"H10":0.875},
{"t":2014.0,"PR":0.205,"H1":0.97,"H2":0.94,"H3":0.885,"H4":0.855,"H5":0.92,"H6":0.89,"H7":0.94,"H8":0.93,"H9":0.815,"H10":0.835},
{"t":2014.5,"PR":0.3,"H1":0.965,"H2":0.93,"H3":0.87,"H4":0.835,"H5":0.9,"H6":0.87,"H7":0.925,"H8":0.91,"H9":0.79,"H10":0.79},
{"t":2015.0,"PR":0.435,"H1":0.96,"H2":0.92,"H3":0.855,"H4":0.815,"H5":0.885,"H6":0.85,"H7":0.91,"H8":0.895,"H9":0.765,"H10":0.745},
{"t":2015.5,"PR":0.57,"H1":0.955,"H2":0.915,"H3":0.845,"H4":0.8,"H5":0.875,"H6":0.835,"H7":0.9,"H8":0.885,"H9":0.74,"H10":0.73},
{"t":2016.0,"PR":0.7,"H1":0.955,"H2":0.915,"H3":0.84,"H4":0.795,"H5":0.875,"H6":0.83,"H7":0.9,"H8":0.885,"H9":0.725,"H10":0.76},
{"t":2016.5,"PR":0.79,"H1":0.96,"H2":0.92,"H3":0.845,"H4":0.795,"H5":0.885,"H6":0.83,"H7":0.905,"H8":0.895,"H9":0.73,"H10":0.82},
{"t":2017.0,"PR":0.845,"H1":0.965,"H2":0.93,"H3":0.855,"H4":0.805,"H5":0.9,"H6":0.84,"H7":0.92,"H8":0.91,"H9":0.75,"H10":0.87},
{"t":2017.5,"PR":0.885,"H1":0.97,"H2":0.94,"H3":0.87,"H4":0.82,"H5":0.92,"H6":0.86,"H7":0.935,"H8":0.925,"H9":0.775,"H10":0.905},
{"t":2018.0,"PR":0.91,"H1":0.975,"H2":0.95,"H3":0.885,"H4":0.845,"H5":0.94,"H6":0.88,"H7":0.945,"H8":0.94,"H9":0.805,"H10":0.93},
{"t":2018.5,"PR":0.925,"H1":0.98,"H2":0.955,"H3":0.9,"H4":0.87,"H5":0.955,"H6":0.9,"H7":0.955,"H8":0.95,"H9":0.835,"H10":0.945},
{"t":2019.0,"PR":0.93,"H1":0.985,"H2":0.96,"H3":0.91,"H4":0.895,"H5":0.965,"H6":0.915,"H7":0.96,"H8":0.955,"H9":0.86,"H10":0.955}
],
"E":[
{"t":2012.77,"PR":0.265,"H1":0.985,"H2":0.975,"H3":0.96,"H4":0.91,"H5":0.95,"H6":0.92,"H7":0.97,"H8":0.965,"H9":0.92,"H10":0.935},
{"t":2013.0,"PR":0.23,"H1":0.985,"H2":0.975,"H3":0.955,"H4":0.905,"H5":0.945,"H6":0.915,"H7":0.965,"H8":0.96,"H9":0.91,"H10":0.925},
{"t":2013.5,"PR":0.19,"H1":0.985,"H2":0.97,"H3":0.945,"H4":0.89,"H5":0.935,"H6":0.905,"H7":0.955,"H8":0.945,"H9":0.895,"H10":0.9},
{"t":2014.0,"PR":0.215,"H1":0.983,"H2":0.965,"H3":0.935,"H4":0.875,"H5":0.92,"H6":0.89,"H7":0.94,"H8":0.925,"H9":0.87,"H10":0.865},
{"t":2014.5,"PR":0.3,"H1":0.98,"H2":0.96,"H3":0.925,"H4":0.86,"H5":0.905,"H6":0.87,"H7":0.92,"H8":0.9,"H9":0.835,"H10":0.82},
{"t":2015.0,"PR":0.415,"H1":0.98,"H2":0.955,"H3":0.915,"H4":0.845,"H5":0.89,"H6":0.85,"H7":0.9,"H8":0.875,"H9":0.8,"H10":0.775},
{"t":2015.5,"PR":0.54,"H1":0.98,"H2":0.955,"H3":0.91,"H4":0.835,"H5":0.88,"H6":0.84,"H7":0.89,"H8":0.86,"H9":0.775,"H10":0.74},
{"t":2016.0,"PR":0.66,"H1":0.98,"H2":0.955,"H3":0.91,"H4":0.83,"H5":0.875,"H6":0.84,"H7":0.89,"H8":0.86,"H9":0.765,"H10":0.73},
{"t":2016.5,"PR":0.75,"H1":0.982,"H2":0.96,"H3":0.92,"H4":0.83,"H5":0.88,"H6":0.85,"H7":0.9,"H8":0.865,"H9":0.77,"H10":0.74},
{"t":2017.0,"PR":0.82,"H1":0.985,"H2":0.965,"H3":0.935,"H4":0.835,"H5":0.9,"H6":0.87,"H7":0.915,"H8":0.88,"H9":0.79,"H10":0.76},
{"t":2017.5,"PR":0.86,"H1":0.988,"H2":0.975,"H3":0.95,"H4":0.845,"H5":0.925,"H6":0.895,"H7":0.935,"H8":0.895,"H9":0.81,"H10":0.785},
{"t":2018.0,"PR":0.89,"H1":0.99,"H2":0.98,"H3":0.965,"H4":0.86,"H5":0.95,"H6":0.92,"H7":0.955,"H8":0.91,"H9":0.835,"H10":0.81},
{"t":2018.5,"PR":0.905,"H1":0.99,"H2":0.985,"H3":0.975,"H4":0.875,"H5":0.97,"H6":0.94,"H7":0.97,"H8":0.925,"H9":0.86,"H10":0.83},
{"t":2019.0,"PR":0.91,"H1":0.99,"H2":0.99,"H3":0.985,"H4":0.89,"H5":0.98,"H6":0.955,"H7":0.975,"H8":0.935,"H9":0.875,"H10":0.85}
],
"F":[
{"t":2012.77,"PR":0.268,"H1":0.39,"H2":0.86,"H3":0.77,"H4":0.87,"H5":0.855,"H6":0.445,"H7":0.92,"H8":0.93,"H9":0.91,"H10":0.94},
{"t":2013.0,"PR":0.23,"H1":0.33,"H2":0.85,"H3":0.75,"H4":0.865,"H5":0.85,"H6":0.455,"H7":0.91,"H8":0.925,"H9":0.9,"H10":0.93},
{"t":2013.5,"PR":0.188,"H1":0.27,"H2":0.82,"H3":0.715,"H4":0.85,"H5":0.83,"H6":0.465,"H7":0.895,"H8":0.91,"H9":0.88,"H10":0.905},
{"t":2014.0,"PR":0.235,"H1":0.28,"H2":0.78,"H3":0.68,"H4":0.83,"H5":0.81,"H6":0.455,"H7":0.875,"H8":0.895,"H9":0.855,"H10":0.87},
{"t":2014.5,"PR":0.3,"H1":0.34,"H2":0.73,"H3":0.645,"H4":0.81,"H5":0.79,"H6":0.44,"H7":0.85,"H8":0.87,"H9":0.825,"H10":0.825},
{"t":2015.0,"PR":0.4,"H1":0.395,"H2":0.68,"H3":0.61,"H4":0.79,"H5":0.78,"H6":0.43,"H7":0.82,"H8":0.835,"H9":0.79,"H10":0.775},
{"t":2015.5,"PR":0.54,"H1":0.41,"H2":0.645,"H3":0.58,"H4":0.78,"H5":0.785,"H6":0.45,"H7":0.795,"H8":0.8,"H9":0.765,"H10":0.74},
{"t":2016.0,"PR":0.68,"H1":0.39,"H2":0.65,"H3":0.565,"H4":0.79,"H5":0.8,"H6":0.5,"H7":0.78,"H8":0.8,"H9":0.755,"H10":0.735},
{"t":2016.5,"PR":0.78,"H1":0.36,"H2":0.7,"H3":0.57,"H4":0.82,"H5":0.83,"H6":0.54,"H7":0.79,"H8":0.83,"H9":0.765,"H10":0.75},
{"t":2017.0,"PR":0.835,"H1":0.355,"H2":0.77,"H3":0.59,"H4":0.86,"H5":0.86,"H6":0.58,"H7":0.82,"H8":0.87,"H9":0.79,"H10":0.77},
{"t":2017.5,"PR":0.87,"H1":0.36,"H2":0.84,"H3":0.61,"H4":0.89,"H5":0.885,"H6":0.62,"H7":0.85,"H8":0.9,"H9":0.82,"H10":0.795},
{"t":2018.0,"PR":0.895,"H1":0.365,"H2":0.89,"H3":0.625,"H4":0.91,"H5":0.9,"H6":0.67,"H7":0.875,"H8":0.915,"H9":0.845,"H10":0.82},
{"t":2018.5,"PR":0.91,"H1":0.375,"H2":0.92,"H3":0.64,"H4":0.925,"H5":0.91,"H6":0.72,"H7":0.895,"H8":0.925,"H9":0.86,"H10":0.84},
{"t":2019.0,"PR":0.915,"H1":0.395,"H2":0.93,"H3":0.65,"H4":0.935,"H5":0.92,"H6":0.757,"H7":0.905,"H8":0.93,"H9":0.87,"H10":0.85}
],
"G":[
{"t":2012.77,"PR":0.665,"H1":0.965,"H2":0.95,"H3":0.935,"H4":0.92,"H5":0.9,"H6":0.895,"H7":0.83,"H8":0.88,"H9":0.87,"H10":0.91},
{"t":2013.0,"PR":0.655,"H1":0.96,"H2":0.945,"H3":0.93,"H4":0.915,"H5":0.895,"H6":0.89,"H7":0.825,"H8":0.875,"H9":0.855,"H10":0.9},
{"t":2013.5,"PR":0.63,"H1":0.95,"H2":0.935,"H3":0.915,"H4":0.9,"H5":0.885,"H6":0.885,"H7":0.815,"H8":0.865,"H9":0.8,"H10":0.88},
{"t":2014.0,"PR":0.59,"H1":0.935,"H2":0.92,"H3":0.9,"H4":0.88,"H5":0.87,"H6":0.88,"H7":0.805,"H8":0.85,"H9":0.73,"H10":0.845},
{"t":2014.5,"PR":0.5,"H1":0.92,"H2":0.905,"H3":0.885,"H4":0.865,"H5":0.86,"H6":0.875,"H7":0.8,"H8":0.84,"H9":0.67,"H10":0.81},
{"t":2015.0,"PR":0.4,"H1":0.91,"H2":0.895,"H3":0.87,"H4":0.85,"H5":0.85,"H6":0.87,"H7":0.8,"H8":0.835,"H9":0.625,"H10":0.78},
{"t":2015.5,"PR":0.31,"H1":0.905,"H2":0.89,"H3":0.865,"H4":0.845,"H5":0.845,"H6":0.87,"H7":0.8,"H8":0.835,"H9":0.61,"H10":0.76},
{"t":2016.0,"PR":0.27,"H1":0.915,"H2":0.895,"H3":0.865,"H4":0.845,"H5":0.85,"H6":0.875,"H7":0.805,"H8":0.84,"H9":0.635,"H10":0.75},
{"t":2016.5,"PR":0.28,"H1":0.93,"H2":0.91,"H3":0.875,"H4":0.855,"H5":0.86,"H6":0.885,"H7":0.82,"H8":0.85,"H9":0.69,"H10":0.742},
{"t":2017.0,"PR":0.36,"H1":0.95,"H2":0.925,"H3":0.89,"H4":0.87,"H5":0.875,"H6":0.9,"H7":0.84,"H8":0.86,"H9":0.75,"H10":0.735},
{"t":2017.5,"PR":0.475,"H1":0.965,"H2":0.94,"H3":0.905,"H4":0.885,"H5":0.89,"H6":0.915,"H7":0.865,"H8":0.875,"H9":0.795,"H10":0.74},
{"t":2018.0,"PR":0.59,"H1":0.975,"H2":0.95,"H3":0.92,"H4":0.9,"H5":0.905,"H6":0.93,"H7":0.89,"H8":0.89,"H9":0.825,"H10":0.75},
{"t":2018.5,"PR":0.665,"H1":0.98,"H2":0.955,"H3":0.93,"H4":0.915,"H5":0.915,"H6":0.94,"H7":0.91,"H8":0.905,"H9":0.845,"H10":0.762},
{"t":2019.0,"PR":0.72,"H1":0.985,"H2":0.96,"H3":0.94,"H4":0.93,"H5":0.925,"H6":0.945,"H7":0.92,"H8":0.915,"H9":0.858,"H10":0.772}
],
"H":[
{"t":2012.77,"PR":0.695,"H1":0.915,"H2":0.88,"H3":0.85,"H4":0.84,"H5":0.87,"H6":0.92,"H7":0.77,"H8":0.86,"H9":0.87,"H10":0.9},
{"t":2013.0,"PR":0.69,"H1":0.905,"H2":0.875,"H3":0.845,"H4":0.835,"H5":0.865,"H6":0.915,"H7":0.755,"H8":0.855,"H9":0.86,"H10":0.89},
{"t":2013.5,"PR":0.67,"H1":0.88,"H2":0.86,"H3":0.83,"H4":0.815,"H5":0.85,"H6":0.905,"H7":0.735,"H8":0.845,"H9":0.83,"H10":0.865},
{"t":2014.0,"PR":0.625,"H1":0.85,"H2":0.84,"H3":0.81,"H4":0.79,"H5":0.825,"H6":0.9,"H7":0.725,"H8":0.835,"H9":0.79,"H10":0.83},
{"t":2014.5,"PR":0.55,"H1":0.82,"H2":0.82,"H3":0.79,"H4":0.765,"H5":0.8,"H6":0.895,"H7":0.73,"H8":0.83,"H9":0.745,"H10":0.8},
{"t":2015.0,"PR":0.45,"H1":0.805,"H2":0.81,"H3":0.775,"H4":0.75,"H5":0.78,"H6":0.89,"H7":0.75,"H8":0.83,"H9":0.705,"H10":0.78},
{"t":2015.5,"PR":0.36,"H1":0.8,"H2":0.81,"H3":0.775,"H4":0.75,"H5":0.775,"H6":0.885,"H7":0.78,"H8":0.83,"H9":0.68,"H10":0.765},
{"t":2016.0,"PR":0.3,"H1":0.815,"H2":0.83,"H3":0.8,"H4":0.775,"H5":0.79,"H6":0.885,"H7":0.82,"H8":0.835,"H9":0.675,"H10":0.755},
{"t":2016.5,"PR":0.29,"H1":0.85,"H2":0.86,"H3":0.845,"H4":0.83,"H5":0.83,"H6":0.89,"H7":0.86,"H8":0.845,"H9":0.685,"H10":0.75},
{"t":2017.0,"PR":0.4,"H1":0.895,"H2":0.9,"H3":0.895,"H4":0.885,"H5":0.875,"H6":0.905,"H7":0.895,"H8":0.855,"H9":0.7,"H10":0.75},
{"t":2017.5,"PR":0.56,"H1":0.935,"H2":0.93,"H3":0.935,"H4":0.925,"H5":0.91,"H6":0.92,"H7":0.92,"H8":0.865,"H9":0.715,"H10":0.755},
{"t":2018.0,"PR":0.67,"H1":0.955,"H2":0.95,"H3":0.955,"H4":0.945,"H5":0.93,"H6":0.935,"H7":0.935,"H8":0.875,"H9":0.73,"H10":0.765},
{"t":2018.5,"PR":0.73,"H1":0.965,"H2":0.965,"H3":0.965,"H4":0.955,"H5":0.94,"H6":0.945,"H7":0.945,"H8":0.885,"H9":0.745,"H10":0.775},
{"t":2019.0,"PR":0.76,"H1":0.97,"H2":0.97,"H3":0.975,"H4":0.96,"H5":0.945,"H6":0.95,"H7":0.95,"H8":0.895,"H9":0.76,"H10":0.785}
],
"I":[
{"t":2012.77,"PR":0.695,"H1":0.42,"H2":0.89,"H3":0.7,"H4":0.68,"H5":0.82,"H6":0.845,"H7":0.77,"H8":0.845,"H9":0.9,"H10":0.905},
{"t":2013.0,"PR":0.69,"H1":0.39,"H2":0.885,"H3":0.68,"H4":0.665,"H5":0.815,"H6":0.835,"H7":0.76,"H8":0.835,"H9":0.895,"H10":0.9},
{"t":2013.5,"PR":0.67,"H1":0.3,"H2":0.86,"H3":0.635,"H4":0.64,"H5":0.795,"H6":0.81,"H7":0.735,"H8":0.8,"H9":0.865,"H10":0.88},
{"t":2014.0,"PR":0.625,"H1":0.27,"H2":0.82,"H3":0.6,"H4":0.615,"H5":0.77,"H6":0.78,"H7":0.705,"H8":0.75,"H9":0.82,"H10":0.855},
{"t":2014.5,"PR":0.55,"H1":0.34,"H2":0.78,"H3":0.585,"H4":0.6,"H5":0.74,"H6":0.745,"H7":0.67,"H8":0.7,"H9":0.77,"H10":0.825},
{"t":2015.0,"PR":0.45,"H1":0.395,"H2":0.74,"H3":0.585,"H4":0.6,"H5":0.71,"H6":0.71,"H7":0.64,"H8":0.655,"H9":0.72,"H10":0.795},
{"t":2015.5,"PR":0.355,"H1":0.385,"H2":0.72,"H3":0.6,"H4":0.61,"H5":0.69,"H6":0.69,"H7":0.62,"H8":0.62,"H9":0.685,"H10":0.77},
{"t":2016.0,"PR":0.295,"H1":0.36,"H2":0.73,"H3":0.64,"H4":0.635,"H5":0.69,"H6":0.69,"H7":0.615,"H8":0.61,"H9":0.67,"H10":0.755},
{"t":2016.5,"PR":0.29,"H1":0.35,"H2":0.78,"H3":0.7,"H4":0.68,"H5":0.71,"H6":0.71,"H7":0.625,"H8":0.62,"H9":0.67,"H10":0.75},
{"t":2017.0,"PR":0.36,"H1":0.355,"H2":0.84,"H3":0.77,"H4":0.74,"H5":0.75,"H6":0.74,"H7":0.645,"H8":0.645,"H9":0.685,"H10":0.75},
{"t":2017.5,"PR":0.5,"H1":0.365,"H2":0.89,"H3":0.84,"H4":0.81,"H5":0.8,"H6":0.78,"H7":0.675,"H8":0.68,"H9":0.705,"H10":0.755},
{"t":2018.0,"PR":0.63,"H1":0.37,"H2":0.92,"H3":0.9,"H4":0.87,"H5":0.86,"H6":0.83,"H7":0.71,"H8":0.72,"H9":0.73,"H10":0.765},
{"t":2018.5,"PR":0.715,"H1":0.38,"H2":0.935,"H3":0.94,"H4":0.91,"H5":0.9,"H6":0.89,"H7":0.745,"H8":0.755,"H9":0.755,"H10":0.775},
{"t":2019.0,"PR":0.76,"H1":0.4,"H2":0.94,"H3":0.96,"H4":0.93,"H5":0.93,"H6":0.93,"H7":0.78,"H8":0.785,"H9":0.79,"H10":0.785}
]
},
"resolve":{"scale":{"x":"independent","y":"independent","color":"independent"},"axis":{"x":"independent","y":"independent"},"legend":{"color":"independent"}},
"bounds":"flush",
"columns":3,
"spacing":{"row":35,"column":43},
"concat":[
{"width":194,"height":121,
 "title":{"text":"(A)\u00a0\u00a0\u00a0\u00a0\u00a0\u00a0\u00a0\u00a0\u00a0\u00a0\u00a0\u00a0\u00a0\u00a0\u00a0\u00a0Climate","dx":-39,"dy":1},
 "data":{"name":"A"},
 "transform":[{"fold":["H1","H2","H3","H4","H5","H6","H7","H8","H9","H10","PR"],"as":["s","v"]}],
 "mark":{"type":"line","strokeWidth":1.2,"clip":true},
 "encoding":{
  "x":{"field":"t","type":"quantitative","scale":{"domain":[2011.72,2019.28],"nice":false,"zero":false},
   "axis":{"offset":9,"values":[2012,2013,2014,2015,2016,2017,2018,2019],"labelExpr":"datum.value < 2019 ? format(datum.value, 'd') : ''","labelOffset":12.8,"labelFontSize":7.3,"labelFlush":false,"labelOverlap":false,"labelBound":false,"domainDash":[0,7.2,179.6,40],"title":null}},
  "y":{"field":"v","type":"quantitative","scale":{"domain":[0,0.02],"nice":false,"zero":false},
   "axis":{"values":[0,0.005,0.01,0.015,0.02],"format":".3f","title":"Absolute Humidity (g/m³)","titleX":-33}},
  "color":{"field":"s","type":"nominal","scale":{"domain":["PR","H1","H2","H3","H4","H5","H6","H7","H8","H9","H10"],"range":["#5f9dff","#1a1a1a","#fff7f3","#fde0dd","#fcc5c0","#fa9fb5","#f768a1","#dd3497","#ae017e","#7a0177","#49006a"]},"legend":null}
 }
},
{"width":197,"height":121,
 "title":{"text":"(D)\u00a0\u00a0\u00a0\u00a0\u00a0\u00a0\u00a0\u00a0\u00a0\u00a0\u00a0\u00a0\u00a0\u00a0\u00a0\u00a0\u00a0\u00a0\u00a0\u00a0\u00a0\u00a0\u00a0\u00a0Influenza A","dx":-34,"dy":2},
 "layer":[
  {"data":{"name":"D"},
   "transform":[{"fold":["H1","H2","H3","H4","H5","H6","H7","H8","H9","H10","PR"],"as":["s","v"]}],
   "mark":{"type":"line","strokeWidth":1.3,"interpolate":"monotone"},
   "encoding":{
    "x":{"field":"t","type":"quantitative","scale":{"domain":[2011.72,2019.28],"nice":false,"zero":false},
     "axis":{"offset":9,"values":[2012,2013,2014,2015,2016,2017,2018,2019],"labelExpr":"datum.value < 2019 ? format(datum.value, 'd') : ''","labelOffset":13,"labelFontSize":6.3,"labelFlush":false,"labelOverlap":false,"labelBound":false,"domainDash":[0,7.3,182.4,40],"title":null}},
    "y":{"field":"v","type":"quantitative","scale":{"domain":[0,1],"nice":false,"zero":false},
     "axis":{"values":[0,0.2,0.4,0.6,0.8,1],"format":".1f","title":"Coherence","titleX":-24}},
    "color":{"field":"s","type":"nominal","scale":{"domain":["PR","H1","H2","H3","H4","H5","H6","H7","H8","H9","H10"],"range":["#5f9dff","#1a1a1a","#fff7f3","#fde0dd","#fcc5c0","#fa9fb5","#f768a1","#dd3497","#ae017e","#7a0177","#49006a"]},
     "legend":{"orient":"none","legendX":130,"legendY":45,"title":null,"labelFontSize":5.8,"labelColor":"#111","symbolType":"stroke","symbolStrokeWidth":1.6,"symbolSize":20,"clipHeight":6.6,"rowPadding":0,"labelOffset":3,"padding":0,"offset":0,"labelExpr":"datum.label == 'PR' ? 'SEDSS (Puerto Rico)' : 'US HHS ' + slice(datum.label, 1)"}}
   }
  },
  {"data":{"values":[{}]},"mark":{"type":"rule","strokeDash":[5,3],"color":"#5f9dff","strokeWidth":1.3},"encoding":{"y":{"datum":1}}}
 ]
},
{"width":191,"height":121,
 "title":{"text":"(G)\u00a0\u00a0\u00a0\u00a0\u00a0\u00a0\u00a0\u00a0\u00a0\u00a0\u00a0\u00a0\u00a0\u00a0\u00a0\u00a0\u00a0\u00a0\u00a0\u00a0\u00a0\u00a0Influenza B","dx":-33,"dy":2},
 "layer":[
  {"data":{"name":"G"},
   "transform":[{"fold":["H1","H2","H3","H4","H5","H6","H7","H8","H9","H10","PR"],"as":["s","v"]}],
   "mark":{"type":"line","strokeWidth":1.3,"interpolate":"monotone"},
   "encoding":{
    "x":{"field":"t","type":"quantitative","scale":{"domain":[2011.72,2019.1],"nice":false,"zero":false},
     "axis":{"offset":9,"values":[2012,2013,2014,2015,2016,2017,2018,2019],"labelExpr":"datum.value < 2019 ? format(datum.value, 'd') : ''","labelOffset":12.9,"labelFontSize":6.3,"labelFlush":false,"labelOverlap":false,"labelBound":false,"domainDash":[0,7.25,181.2,40],"title":null}},
    "y":{"field":"v","type":"quantitative","scale":{"domain":[0,1],"nice":false,"zero":false},
     "axis":{"values":[0,0.2,0.4,0.6,0.8,1],"format":".1f","title":"Coherence","titleX":-24}},
    "color":{"field":"s","type":"nominal","scale":{"domain":["PR","H1","H2","H3","H4","H5","H6","H7","H8","H9","H10"],"range":["#5f9dff","#1a1a1a","#fff7f3","#fde0dd","#fcc5c0","#fa9fb5","#f768a1","#dd3497","#ae017e","#7a0177","#49006a"]},"legend":null}
   }
  },
  {"data":{"values":[{}]},"mark":{"type":"rule","strokeDash":[5,3],"color":"#5f9dff","strokeWidth":1.3},"encoding":{"y":{"datum":1}}}
 ]
},
{"width":194,"height":127,
 "title":{"text":"(B)","dx":-39,"dy":4},
 "data":{"name":"B"},
 "transform":[{"fold":["H1","H2","H3","H4","H5","H6","H7","H8","H9","H10","PR"],"as":["s","v"]}],
 "mark":{"type":"line","strokeWidth":1.2,"clip":true},
 "encoding":{
  "x":{"field":"t","type":"quantitative","scale":{"domain":[2011.72,2019.28],"nice":false,"zero":false},
   "axis":{"offset":1,"values":[2012,2013,2014,2015,2016,2017,2018,2019],"labelExpr":"datum.value < 2019 ? format(datum.value, 'd') : ''","labelOffset":12.8,"labelFontSize":7.3,"labelFlush":false,"labelOverlap":false,"labelBound":false,"domainDash":[0,7.2,179.6,40],"title":null}},
  "y":{"field":"v","type":"quantitative","scale":{"domain":[6.85,90.5],"nice":false,"zero":false},
   "axis":{"values":[20,40,60,80],"title":"Average Temperature (°F)","titleX":-33,"titleY":58,"domainDash":[0,20,91,40]}},
  "color":{"field":"s","type":"nominal","scale":{"domain":["PR","H1","H2","H3","H4","H5","H6","H7","H8","H9","H10"],"range":["#5f9dff","#1a1a1a","#fff7f3","#fde0dd","#fcc5c0","#fa9fb5","#f768a1","#dd3497","#ae017e","#7a0177","#49006a"]},"legend":null}
 }
},
{"width":197,"height":127,
 "title":{"text":"(E)","dx":-31,"dy":7},
 "layer":[
  {"data":{"name":"E"},
   "transform":[{"fold":["H1","H2","H3","H4","H5","H6","H7","H8","H9","H10","PR"],"as":["s","v"]}],
   "mark":{"type":"line","strokeWidth":1.3,"interpolate":"monotone"},
   "encoding":{
    "x":{"field":"t","type":"quantitative","scale":{"domain":[2011.72,2019.28],"nice":false,"zero":false},
     "axis":{"offset":1,"values":[2012,2013,2014,2015,2016,2017,2018,2019],"labelExpr":"datum.value < 2019 ? format(datum.value, 'd') : ''","labelOffset":13,"labelFontSize":6.3,"labelFlush":false,"labelOverlap":false,"labelBound":false,"domainDash":[0,7.3,182.4,40],"title":null}},
    "y":{"field":"v","type":"quantitative","scale":{"domain":[-0.0496,1],"nice":false,"zero":false},
     "axis":{"values":[0,0.2,0.4,0.6,0.8,1],"format":".1f","title":"Coherence","titleX":-24,"titleY":60.5,"domainDash":[0,6,121,40]}},
    "color":{"field":"s","type":"nominal","scale":{"domain":["PR","H1","H2","H3","H4","H5","H6","H7","H8","H9","H10"],"range":["#5f9dff","#1a1a1a","#fff7f3","#fde0dd","#fcc5c0","#fa9fb5","#f768a1","#dd3497","#ae017e","#7a0177","#49006a"]},"legend":null}
   }
  },
  {"data":{"values":[{}]},"mark":{"type":"rule","strokeDash":[5,3],"color":"#5f9dff","strokeWidth":1.3},"encoding":{"y":{"datum":1}}}
 ]
},
{"width":191,"height":127,
 "title":{"text":"(H)","dx":-35,"dy":7},
 "layer":[
  {"data":{"name":"H"},
   "transform":[{"fold":["H1","H2","H3","H4","H5","H6","H7","H8","H9","H10","PR"],"as":["s","v"]}],
   "mark":{"type":"line","strokeWidth":1.3,"interpolate":"monotone"},
   "encoding":{
    "x":{"field":"t","type":"quantitative","scale":{"domain":[2011.72,2019.1],"nice":false,"zero":false},
     "axis":{"offset":1,"values":[2012,2013,2014,2015,2016,2017,2018,2019],"labelExpr":"datum.value < 2019 ? format(datum.value, 'd') : ''","labelOffset":12.9,"labelFontSize":6.3,"labelFlush":false,"labelOverlap":false,"labelBound":false,"domainDash":[0,7.25,181.2,40],"title":null}},
    "y":{"field":"v","type":"quantitative","scale":{"domain":[-0.0496,1],"nice":false,"zero":false},
     "axis":{"values":[0,0.2,0.4,0.6,0.8,1],"format":".1f","title":"Coherence","titleX":-24,"titleY":60.5,"domainDash":[0,6,121,40]}},
    "color":{"field":"s","type":"nominal","scale":{"domain":["PR","H1","H2","H3","H4","H5","H6","H7","H8","H9","H10"],"range":["#5f9dff","#1a1a1a","#fff7f3","#fde0dd","#fcc5c0","#fa9fb5","#f768a1","#dd3497","#ae017e","#7a0177","#49006a"]},"legend":null}
   }
  },
  {"data":{"values":[{}]},"mark":{"type":"rule","strokeDash":[5,3],"color":"#5f9dff","strokeWidth":1.3},"encoding":{"y":{"datum":1}}}
 ]
},
{"width":194,"height":122,
 "title":{"text":"(C)","dx":-39,"dy":8},
 "data":{"name":"C"},
 "transform":[{"fold":["H1","H2","H3","H4","H5","H6","H7","H8","H9","H10","PR"],"as":["s","v"]}],
 "mark":{"type":"line","strokeWidth":1.1,"clip":true},
 "encoding":{
  "x":{"field":"t","type":"quantitative","scale":{"domain":[2011.72,2019.28],"nice":false,"zero":false},
   "axis":{"offset":7,"values":[2012,2013,2014,2015,2016,2017,2018,2019],"labelExpr":"datum.value < 2019 ? format(datum.value, 'd') : ''","labelOffset":12.8,"labelFontSize":7.3,"labelFlush":false,"labelOverlap":false,"labelBound":false,"domainDash":[0,7.2,179.6,40],"title":"Time"}},
  "y":{"field":"v","type":"quantitative","scale":{"domain":[0,25],"nice":false,"zero":false},
   "axis":{"values":[0,5,10,15,20,25],"title":"Average Precipitation (kg/m²)","titleX":-33,"titleY":66}},
  "color":{"field":"s","type":"nominal","scale":{"domain":["PR","H1","H2","H3","H4","H5","H6","H7","H8","H9","H10"],"range":["#5f9dff","#1a1a1a","#fff7f3","#fde0dd","#fcc5c0","#fa9fb5","#f768a1","#dd3497","#ae017e","#7a0177","#49006a"]},"legend":null}
 }
},
{"width":197,"height":122,
 "title":{"text":"(F)","dx":-36,"dy":12},
 "layer":[
  {"data":{"name":"F"},
   "transform":[{"fold":["H1","H2","H3","H4","H5","H6","H7","H8","H9","H10","PR"],"as":["s","v"]}],
   "mark":{"type":"line","strokeWidth":1.3,"interpolate":"monotone"},
   "encoding":{
    "x":{"field":"t","type":"quantitative","scale":{"domain":[2011.72,2019.28],"nice":false,"zero":false},
     "axis":{"offset":7,"values":[2012,2013,2014,2015,2016,2017,2018,2019],"labelExpr":"datum.value < 2019 ? format(datum.value, 'd') : ''","labelOffset":13,"labelFontSize":6.3,"labelFlush":false,"labelOverlap":false,"labelBound":false,"domainDash":[0,7.3,182.4,40],"title":"Time"}},
    "y":{"field":"v","type":"quantitative","scale":{"domain":[0,1],"nice":false,"zero":false},
     "axis":{"values":[0,0.2,0.4,0.6,0.8,1],"format":".1f","title":"Coherence","titleX":-24}},
    "color":{"field":"s","type":"nominal","scale":{"domain":["PR","H1","H2","H3","H4","H5","H6","H7","H8","H9","H10"],"range":["#5f9dff","#1a1a1a","#fff7f3","#fde0dd","#fcc5c0","#fa9fb5","#f768a1","#dd3497","#ae017e","#7a0177","#49006a"]},"legend":null}
   }
  },
  {"data":{"values":[{}]},"mark":{"type":"rule","strokeDash":[5,3],"color":"#5f9dff","strokeWidth":1.3},"encoding":{"y":{"datum":1}}}
 ]
},
{"width":191,"height":122,
 "title":{"text":"(I)","dx":-31,"dy":9},
 "layer":[
  {"data":{"name":"I"},
   "transform":[{"fold":["H1","H2","H3","H4","H5","H6","H7","H8","H9","H10","PR"],"as":["s","v"]}],
   "mark":{"type":"line","strokeWidth":1.3,"interpolate":"monotone"},
   "encoding":{
    "x":{"field":"t","type":"quantitative","scale":{"domain":[2011.72,2019.1],"nice":false,"zero":false},
     "axis":{"offset":7,"values":[2012,2013,2014,2015,2016,2017,2018,2019],"labelExpr":"datum.value < 2019 ? format(datum.value, 'd') : ''","labelOffset":12.9,"labelFontSize":6.3,"labelFlush":false,"labelOverlap":false,"labelBound":false,"domainDash":[0,7.25,181.2,40],"title":"Time"}},
    "y":{"field":"v","type":"quantitative","scale":{"domain":[0,1],"nice":false,"zero":false},
     "axis":{"values":[0,0.2,0.4,0.6,0.8,1],"format":".1f","title":"Coherence","titleX":-24}},
    "color":{"field":"s","type":"nominal","scale":{"domain":["PR","H1","H2","H3","H4","H5","H6","H7","H8","H9","H10"],"range":["#5f9dff","#1a1a1a","#fff7f3","#fde0dd","#fcc5c0","#fa9fb5","#f768a1","#dd3497","#ae017e","#7a0177","#49006a"]},"legend":null}
   }
  },
  {"data":{"values":[{}]},"mark":{"type":"rule","strokeDash":[5,3],"color":"#5f9dff","strokeWidth":1.3},"encoding":{"y":{"datum":1}}}
 ]
}
]
}
